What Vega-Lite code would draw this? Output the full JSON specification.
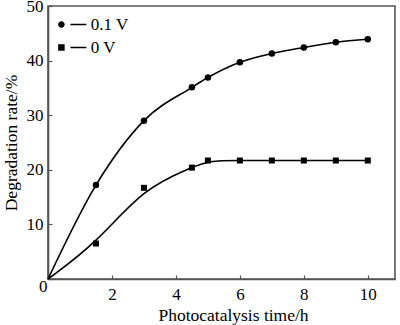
{
  "$schema": "https://vega.github.io/schema/vega-lite/v6.json",
  "width": 347,
  "height": 273,
  "autosize": "none",
  "padding": {"left": 48, "top": 6, "right": 5, "bottom": 46},
  "config": {
    "font": "Liberation Serif",
    "style": {
      "guide-label": {"font": "Liberation Serif", "fontSize": 17, "fill": "black"},
      "guide-title": {"font": "Liberation Serif", "fontSize": 17.5, "fontWeight": "normal", "fill": "black"}
    },
    "view": {"stroke": "#555555", "strokeWidth": 1.6},
    "axis": {
      "labelFont": "Liberation Serif",
      "labelFontSize": 17,
      "labelColor": "black",
      "titleFont": "Liberation Serif",
      "titleFontSize": 17.5,
      "titleFontWeight": "normal",
      "titleColor": "black",
      "domainColor": "#555555",
      "domainWidth": 1.6,
      "tickColor": "#555555",
      "tickWidth": 1.2,
      "tickSize": -4,
      "grid": false
    },
    "legend": {
      "labelFont": "Liberation Serif",
      "labelFontSize": 17,
      "labelColor": "black"
    }
  },
  "data": {
    "values": [
      {"series": "0.1 V", "t": 0, "rate": 0},
      {"series": "0.1 V", "t": 1.5, "rate": 17.2},
      {"series": "0.1 V", "t": 3, "rate": 29.0},
      {"series": "0.1 V", "t": 4.5, "rate": 35.1},
      {"series": "0.1 V", "t": 5, "rate": 36.9},
      {"series": "0.1 V", "t": 6, "rate": 39.7},
      {"series": "0.1 V", "t": 7, "rate": 41.3},
      {"series": "0.1 V", "t": 8, "rate": 42.4},
      {"series": "0.1 V", "t": 9, "rate": 43.35},
      {"series": "0.1 V", "t": 10, "rate": 43.9},
      {"series": "0 V", "t": 0, "rate": 0},
      {"series": "0 V", "t": 1.5, "rate": 6.5},
      {"series": "0 V", "t": 3, "rate": 16.7},
      {"series": "0 V", "t": 4.5, "rate": 20.4},
      {"series": "0 V", "t": 5, "rate": 21.7},
      {"series": "0 V", "t": 6, "rate": 21.7},
      {"series": "0 V", "t": 7, "rate": 21.7},
      {"series": "0 V", "t": 8, "rate": 21.7},
      {"series": "0 V", "t": 9, "rate": 21.7},
      {"series": "0 V", "t": 10, "rate": 21.7}
    ]
  },
  "encoding": {
    "x": {
      "field": "t", "type": "quantitative",
      "scale": {"domain": [0, 10.85], "nice": false, "zero": false},
      "axis": {
        "title": "Photocatalysis time/h",
        "values": [0, 2, 4, 6, 8, 10],
        "labelExpr": "datum.value == 0 ? '' : datum.label",
        "labelFont": "Liberation Serif",
        "titleFont": "Liberation Serif",
        "labelPadding": 11,
        "titlePadding": 4,
        "titleX": 185
      }
    },
    "y": {
      "field": "rate", "type": "quantitative",
      "scale": {"domain": [0, 50], "nice": false},
      "axis": {
        "title": "Degradation rate/%",
        "values": [0, 10, 20, 30, 40, 50],
        "labelFont": "Liberation Serif",
        "titleFont": "Liberation Serif",
        "labelPadding": {"condition": {"test": "datum.value == 0", "value": 5}, "value": 9},
        "labelOffset": {"condition": {"test": "datum.value == 0", "value": 7}, "value": 0},
        "titlePadding": 6
      }
    }
  },
  "layer": [
    {
      "transform": [{"filter": "datum.series == '0.1 V'"}],
      "mark": {"type": "line", "color": "black", "strokeWidth": 1.6, "interpolate": "monotone"},
      "encoding": {}
    },
    {
      "transform": [{"filter": "datum.series == '0 V'"}],
      "mark": {"type": "line", "color": "black", "strokeWidth": 1.6, "interpolate": "basis"},
      "encoding": {}
    },
    {
      "transform": [{"filter": "datum.t > 0"}],
      "mark": {"type": "point", "filled": true, "color": "black", "opacity": 1},
      "encoding": {
        "shape": {
          "field": "series",
          "scale": {"domain": ["0.1 V", "0 V"], "range": ["circle", "square"]},
          "legend": null
        },
        "size": {
          "field": "series",
          "scale": {"domain": ["0.1 V", "0 V"], "range": [42, 36]},
          "legend": null
        }
      }
    },
    {
      "mark": {"type": "point", "filled": true, "color": "black"},
      "encoding": {
        "opacity": {"value": 0},
        "shape": {
          "field": "series",
          "scale": {
            "domain": ["0.1 V", "0 V"],
            "range": [
              "M-0.997,0A0.233,0.233,0,1,0,-0.531,0A0.233,0.233,0,1,0,-0.997,0ZM-0.127,-0.05L1,-0.05L1,0.05L-0.127,0.05Z",
              "M-0.994,-0.23L-0.534,-0.23L-0.534,0.23L-0.994,0.23ZM-0.127,-0.05L1,-0.05L1,0.05L-0.127,0.05Z"
            ]
          },
          "legend": {
            "title": null,
            "orient": "none",
            "legendX": 9.7,
            "legendY": 4,
            "padding": 0,
            "symbolSize": 800,
            "symbolFillColor": "black",
            "symbolStrokeWidth": 0,
            "symbolOpacity": 1,
            "labelFont": "Liberation Serif",
            "labelFontSize": 17,
            "labelOffset": 4,
            "rowPadding": -6
          }
        }
      }
    }
  ],
  "resolve": {"scale": {"shape": "independent", "size": "independent"}, "legend": {"shape": "independent"}}
}
